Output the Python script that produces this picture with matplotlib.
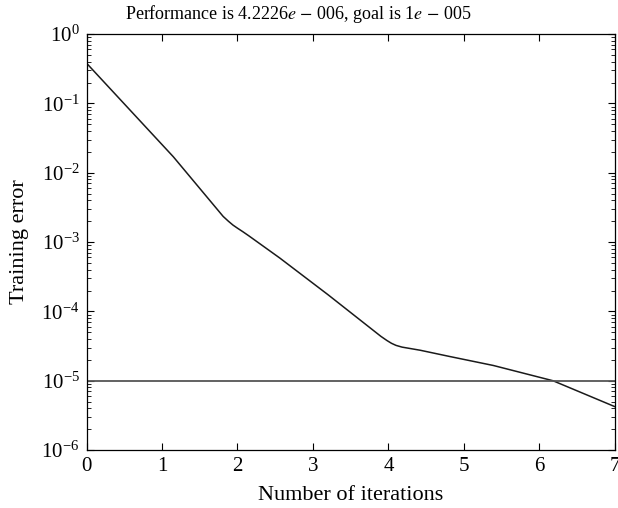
import numpy as np
import matplotlib
matplotlib.use("Agg")
import matplotlib.pyplot as plt
from matplotlib.ticker import LogLocator, FixedLocator

plt.rcParams['font.family'] = ['Liberation Serif', 'DejaVu Serif']
plt.rcParams['mathtext.fontset'] = 'stix'

# Training record (iteration, log10 of error)
iterations = [0, 1.15, 1.81, 1.88, 1.94, 2.0, 2.07, 2.15, 2.56, 3.2, 3.9, 3.98, 4.04, 4.1, 4.18,
              4.42, 4.81, 5.39, 6.18, 7]
log_error = [-0.42, -1.77, -2.63, -2.70, -2.755, -2.80, -2.85, -2.91, -3.23, -3.76, -4.36, -4.42,
             -4.46, -4.49, -4.515, -4.56, -4.65, -4.78, -5.00, -5.374]
goal = 1e-5
performance = 4.2226e-6
xticks = [0, 1, 2, 3, 4, 5, 6, 7]

error = [10 ** v for v in log_error]

fig = plt.figure(figsize=(6.18, 5.08), dpi=100)
ax = fig.add_axes([0.14, 0.114, 0.855, 0.819])

ax.semilogy(iterations, error, color='#1a1a1a', lw=1.1)
ax.axhline(goal, color='#555555', lw=1.3)

ax.set_xlim(0, 7)
ax.set_ylim(1e-6, 1e0)
ax.xaxis.set_major_locator(FixedLocator(xticks))
ax.yaxis.set_major_locator(LogLocator(base=10, numticks=10))
ax.yaxis.set_minor_locator(LogLocator(base=10, subs=np.arange(2, 10), numticks=20))

ax.tick_params(which='both', direction='in', top=True, right=True, labelsize=15)
ax.tick_params(which='major', length=5, width=0.8, pad=5)
ax.tick_params(which='minor', length=3, width=0.6)
ax.tick_params(axis='x', which='minor', bottom=False, top=False)
for s in ax.spines.values():
    s.set_linewidth(0.9)

ax.set_xlabel('Number of iterations', fontsize=16, labelpad=7)
ax.set_ylabel('Training error', fontsize=16, labelpad=9)
fig.text(0.482, 0.962,
         r'Performance is 4.2226$e$ $-$ 006, goal is 1$e$ $-$ 005',
         fontsize=13, ha='center', va='baseline')

fig.savefig('out.png', dpi=100)
